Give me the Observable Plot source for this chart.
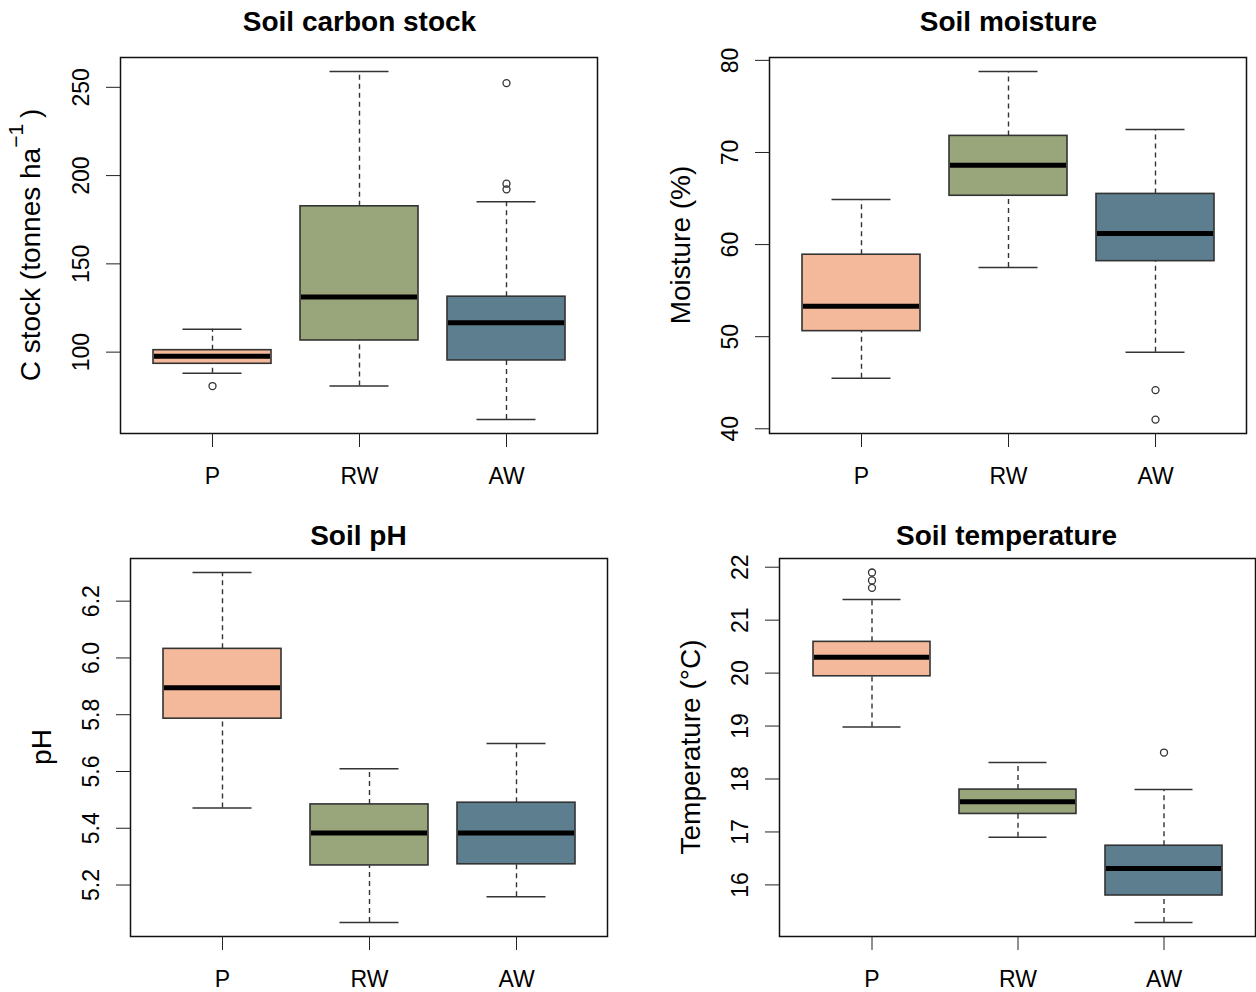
<!DOCTYPE html>
<html>
<head>
<meta charset="utf-8">
<script src="https://cdn.jsdelivr.net/npm/d3@7"></script>
<script src="https://cdn.jsdelivr.net/npm/@observablehq/plot@0.6"></script>
<style>
html, body { margin: 0; padding: 0; background: #fff; }
#root { position: relative; width: 1256px; height: 992px; overflow: hidden; font-family: "Liberation Sans", Arial, sans-serif; color: #000; }
.title { position: absolute; font-weight: bold; font-size: 28px; line-height: 28px; white-space: nowrap; transform: translateX(-50%); }
.ylab { position: absolute; font-size: 28px; line-height: 28px; white-space: nowrap; transform: translate(-50%, -50%) rotate(-90deg); }
.sup { position: relative; top: -0.8em; font-size: 0.75em; }
.panel { position: absolute; }
.panel svg { max-width: none !important; display: block; }
</style>
</head>
<body>
<div id="root"></div>
<script>
// Categories and colours
const groups = ["P", "RW", "AW"];
const groupFills = ["#F4B99B", "#99A57A", "#5C7E8E"];

// Soil carbon stock (tonnes ha-1): lower whisker, Q1, median, Q3, upper whisker
const carbonLow = [88.1, 80.8, 61.8];
const carbonQ1 = [93.4, 106.6, 95.3];
const carbonMed = [97.6, 131.2, 116.7];
const carbonQ3 = [101.1, 182.6, 131.4];
const carbonHigh = [113.0, 259.0, 185.2];
const carbonOutliers = [["P", 80.8], ["AW", 252.4], ["AW", 195.4], ["AW", 192.2]];
const carbonTicks = [100, 150, 200, 250];

// Soil moisture (%)
const moistLow = [45.5, 57.5, 48.3];
const moistQ1 = [50.6, 65.3, 58.2];
const moistMed = [53.3, 68.6, 61.2];
const moistQ3 = [58.9, 71.8, 65.5];
const moistHigh = [64.9, 78.8, 72.5];
const moistOutliers = [["AW", 44.2], ["AW", 41.0]];
const moistTicks = [40, 50, 60, 70, 80];

// Soil pH
const phLow = [5.471, 5.068, 5.159];
const phQ1 = [5.786, 5.269, 5.273];
const phMed = [5.895, 5.383, 5.383];
const phQ3 = [6.032, 5.484, 5.490];
const phHigh = [6.301, 5.610, 5.699];
const phOutliers = [];
const phTicks = [5.2, 5.4, 5.6, 5.8, 6.0, 6.2];

// Soil temperature (°C)
const tempLow = [18.98, 16.90, 15.29];
const tempQ1 = [19.94, 17.34, 15.80];
const tempMed = [20.30, 17.57, 16.31];
const tempQ3 = [20.59, 17.80, 16.74];
const tempHigh = [21.39, 18.31, 17.80];
const tempOutliers = [["P", 21.9], ["P", 21.75], ["P", 21.61], ["AW", 18.5]];
const tempTicks = [16, 17, 18, 19, 20, 21, 22];

const root = document.getElementById("root");

function addPanel(cfg) {
  const {low, q1, med, q3, high, outliers, ticks, fmt, frame, title, titlePos, ylabHTML} = cfg;
  const rows = groups.map((g, i) => ({group: g, low: low[i], q1: q1[i], med: med[i], q3: q3[i], high: high[i]}));
  const outs = outliers.map(([g, v]) => ({group: g, value: v}));
  const all = [...low, ...high, ...outs.map(d => d.value)];
  const [mn, mx] = d3.extent(all);
  const pad = (mx - mn) * 0.04;
  const mL = 120, mT = 20, mB = 60, mR = 10;
  const bandInset = 29.5;
  const W = frame.w + mL + mR, H = frame.h + mT + mB;
  const plot = Plot.plot({
    width: W,
    height: H,
    marginLeft: mL, marginRight: mR, marginTop: mT, marginBottom: mB,
    style: {fontFamily: "'Liberation Sans', Arial, sans-serif", fontSize: "23px", color: "#111", background: "transparent", overflow: "visible", maxWidth: "none"},
    x: {type: "band", domain: groups, paddingInner: 0.2, paddingOuter: 0.22, label: null},
    y: {domain: [mn - pad, mx + pad], label: null},
    color: {domain: groups, range: groupFills},
    marks: [
      Plot.ruleX(rows, {x: "group", y1: "low", y2: "q1", stroke: "#333", strokeWidth: 1.4, strokeDasharray: "5,4"}),
      Plot.ruleX(rows, {x: "group", y1: "q3", y2: "high", stroke: "#333", strokeWidth: 1.4, strokeDasharray: "5,4"}),
      Plot.tickY(rows, {x: "group", y: "low", insetLeft: bandInset, insetRight: bandInset, stroke: "#333", strokeWidth: 1.5}),
      Plot.tickY(rows, {x: "group", y: "high", insetLeft: bandInset, insetRight: bandInset, stroke: "#333", strokeWidth: 1.5}),
      Plot.barY(rows, {x: "group", y1: "q1", y2: "q3", fill: "group", stroke: "#333", strokeWidth: 1.6}),
      Plot.tickY(rows, {x: "group", y: "med", insetLeft: 1, insetRight: 1, stroke: "#000", strokeWidth: 5}),
      Plot.dot(outs, {x: "group", y: "value", r: 3.5, stroke: "#333", strokeWidth: 1.3, fill: "none"}),
      Plot.frame({stroke: "#111", strokeWidth: 1.5}),
      Plot.axisX({tickSize: 14, tickPadding: 20, fontSize: 23, stroke: "#222", fill: "#000"}),
      Plot.axisY({ticks, tickSize: 14, tickRotate: -90, tickPadding: 18, tickFormat: fmt, fontSize: 23, stroke: "#222", fill: "#000"})
    ]
  });
  const holder = document.createElement("div");
  holder.className = "panel";
  holder.style.left = (frame.x - mL) + "px";
  holder.style.top = (frame.y - mT) + "px";
  holder.style.width = W + "px";
  holder.style.height = H + "px";
  holder.appendChild(plot);
  root.appendChild(holder);

  const t = document.createElement("div");
  t.className = "title";
  t.textContent = title;
  t.style.left = titlePos.x + "px";
  t.style.top = (titlePos.baseline - 23.7) + "px";
  root.appendChild(t);

  const yl = document.createElement("div");
  yl.className = "ylab";
  yl.innerHTML = ylabHTML;
  yl.style.left = (frame.x - 78 - 9.7) + "px";
  yl.style.top = (frame.y + frame.h / 2) + "px";
  root.appendChild(yl);
}

const intFmt = d3.format("d");
const phFmt = d3.format(".1f");

addPanel({low: carbonLow, q1: carbonQ1, med: carbonMed, q3: carbonQ3, high: carbonHigh, outliers: carbonOutliers,
  ticks: carbonTicks, fmt: intFmt, frame: {x: 120, y: 57, w: 477, h: 376},
  title: "Soil carbon stock", titlePos: {x: 359.5, baseline: 32},
  ylabHTML: 'C stock (tonnes ha<span class="sup">\u22121 </span>)'});

addPanel({low: moistLow, q1: moistQ1, med: moistMed, q3: moistQ3, high: moistHigh, outliers: moistOutliers,
  ticks: moistTicks, fmt: intFmt, frame: {x: 769, y: 57, w: 477, h: 376},
  title: "Soil moisture", titlePos: {x: 1008.5, baseline: 32},
  ylabHTML: 'Moisture (%)'});

addPanel({low: phLow, q1: phQ1, med: phMed, q3: phQ3, high: phHigh, outliers: phOutliers,
  ticks: phTicks, fmt: phFmt, frame: {x: 130, y: 558, w: 477, h: 378},
  title: "Soil pH", titlePos: {x: 358.4, baseline: 546},
  ylabHTML: 'pH'});

addPanel({low: tempLow, q1: tempQ1, med: tempMed, q3: tempQ3, high: tempHigh, outliers: tempOutliers,
  ticks: tempTicks, fmt: intFmt, frame: {x: 779, y: 558, w: 476, h: 378},
  title: "Soil temperature", titlePos: {x: 1006.5, baseline: 546},
  ylabHTML: 'Temperature (\u00B0C)'});
</script>
</body>
</html>
